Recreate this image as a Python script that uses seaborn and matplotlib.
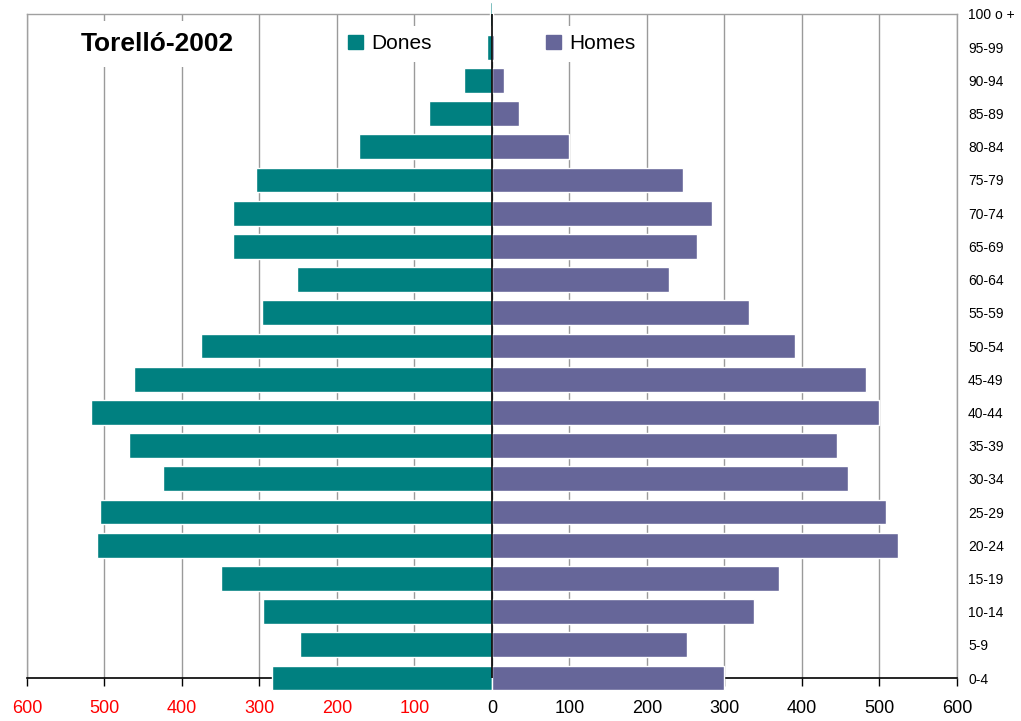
import numpy as np
import pandas as pd
import matplotlib
matplotlib.use('Agg')
import matplotlib.pyplot as plt
import seaborn as sns
from matplotlib.ticker import FuncFormatter, MultipleLocator

# age groups, top to bottom
ages = ['100 o +', '95-99', '90-94', '85-89', '80-84', '75-79', '70-74', '65-69',
        '60-64', '55-59', '50-54', '45-49', '40-44', '35-39', '30-34', '25-29',
        '20-24', '15-19', '10-14', '5-9', '0-4']
dones = [3, 7, 36, 81, 171, 305, 334, 334, 252, 297, 375, 462, 517, 468, 425,
         506, 510, 349, 296, 248, 284]
homes = [1, 2, 16, 35, 100, 247, 284, 265, 229, 332, 391, 482, 500, 445, 460,
         508, 524, 370, 338, 252, 299]

C_DONES = '#008080'
C_HOMES = '#666699'

df = pd.DataFrame({
    'edat': ages * 2,
    'valor': [-v for v in dones] + homes,
    'sexe': ['Dones'] * len(ages) + ['Homes'] * len(ages),
})

sns.set_style('white')
plt.rcParams['font.family'] = ['Liberation Sans', 'DejaVu Sans']
plt.rcParams['text.color'] = 'black'
plt.rcParams['xtick.color'] = 'black'
plt.rcParams['ytick.color'] = 'black'
plt.rcParams['xtick.labelcolor'] = 'black'
plt.rcParams['ytick.labelcolor'] = 'black'

fig = plt.figure(figsize=(10.21, 7.21), dpi=100)
ax = fig.add_axes([0.0264, 0.0596, 0.9109, 0.921])

sns.barplot(data=df, x='valor', y='edat', hue='sexe', order=ages,
            hue_order=['Dones', 'Homes'], palette=[C_DONES, C_HOMES],
            dodge=False, width=0.75, orient='h', ax=ax, legend=False,
            saturation=1, zorder=3)
for p in ax.patches:
    p.set_clip_on(False)

ax.set_xlim(-600, 600)
ax.set_ylim(20, 0)
ax.xaxis.set_major_locator(MultipleLocator(100))
ax.xaxis.set_major_formatter(FuncFormatter(lambda v, _: f'{abs(int(v))}'))
ax.grid(axis='x', color='#9a9a9a', lw=1, zorder=0)
ax.grid(axis='y', visible=False)
ax.axvline(0, color='black', lw=1.2, zorder=4)

ax.yaxis.tick_right()
ax.tick_params(axis='y', length=0, labelsize=10, pad=8)
ax.tick_params(axis='x', direction='out', length=6, width=1, color='black',
               labelsize=13, pad=10)
ax.tick_params(axis='x', bottom=True)
for lbl, v in zip(ax.get_xticklabels(), ax.get_xticks()):
    lbl.set_color('red' if v < 0 else 'black')

for s in ['top', 'left', 'right']:
    ax.spines[s].set_color('#a0a0a0')
    ax.spines[s].set_linewidth(1)
ax.spines['bottom'].set_color('black')
ax.spines['bottom'].set_linewidth(1.2)
ax.set_xlabel('')
ax.set_ylabel('')

ax.text(0.058, 0.955, 'Torelló-2002', transform=ax.transAxes, fontsize=19,
        fontweight='bold', ha='left', va='center', zorder=2,
        bbox=dict(facecolor='white', edgecolor='none', pad=8))

handles = [plt.Rectangle((0, 0), 1, 1, color=C_DONES),
           plt.Rectangle((0, 0), 1, 1, color=C_HOMES)]
leg = ax.legend(handles, ['Dones', 'Homes'], loc='center',
                bbox_to_anchor=(0.5, 0.955), ncol=2, frameon=True,
                fontsize=15, handlelength=0.7, handleheight=0.7,
                handletextpad=0.4, columnspacing=5.5, borderpad=0.4)
leg.get_frame().set_facecolor('white')
leg.get_frame().set_edgecolor('none')
leg.get_frame().set_alpha(1)
leg.set_zorder(2)

plt.savefig('out.png', dpi=100)
